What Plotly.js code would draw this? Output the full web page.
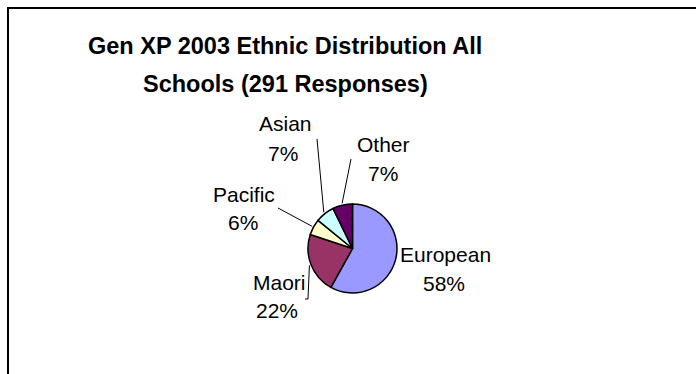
<!DOCTYPE html>
<html>
<head>
<meta charset="utf-8">
<script src="https://cdn.plot.ly/plotly-3.0.1.min.js"></script>
<style>html,body{margin:0;padding:0;background:#fff}#chart{width:696px;height:374px}</style>
</head>
<body>
<div id="chart"></div>
<script>
// Data
const categories = ["European", "Maori", "Pacific", "Asian", "Other"];
const responses = [169, 64, 17, 20, 21];
const sliceColors = ["#9999FF", "#993366", "#FFFFCC", "#CCFFFF", "#660066"];
const titleLines = ["Gen XP 2003 Ethnic Distribution All", "Schools (291 Responses)"];

// Layout helpers (pixel positions)
const W = 696, H = 374;
const cx = 352.5, cy = 248.5, R = 44.5;
const px = x => x / W;
const py = y => 1 - y / H;

// label positions (pixels): [name x, name y, percent x, percent y]
const labelPos = {
  "European": [445, 254, 444, 283],
  "Maori": [279, 282, 277, 310],
  "Pacific": [244, 194, 243, 222],
  "Asian": [285, 123, 283, 153],
  "Other": [383, 144, 383, 173]
};
// leader line outer points (pixels); null = no leader
const leaderOuter = {
  "European": null,
  "Maori": [[308, 299], [305, 299]],
  "Pacific": [[278, 208]],
  "Asian": [[317, 139]],
  "Other": [[351, 159]]
};

const total = responses.reduce((a, b) => a + b, 0);
const annotations = [];
const shapes = [];
const fontFam = "Liberation Sans, Arial, sans-serif";

titleLines.forEach((t, i) => {
  annotations.push({
    text: "<b>" + t + "</b>", xref: "paper", yref: "paper",
    x: px(285), y: py(46 + i * 38), xanchor: "center", yanchor: "middle",
    showarrow: false, font: {family: fontFam, size: 23.5, color: "#000"}
  });
});

let cum = 0;
categories.forEach((c, i) => {
  const frac = responses[i] / total;
  const mid = (cum + frac / 2) * 2 * Math.PI;
  cum += frac;
  const [lx, ly, qx, qy] = labelPos[c];
  annotations.push({
    text: c, xref: "paper", yref: "paper", x: px(lx), y: py(ly),
    xanchor: "center", yanchor: "middle", showarrow: false,
    font: {family: fontFam, size: 21, color: "#000"}
  });
  annotations.push({
    text: Math.round(frac * 100) + "%", xref: "paper", yref: "paper", x: px(qx), y: py(qy),
    xanchor: "center", yanchor: "middle", showarrow: false,
    font: {family: fontFam, size: 21, color: "#000"}
  });
  const outer = leaderOuter[c];
  if (outer) {
    const r2 = R * 1.04;
    const sx = cx + r2 * Math.sin(mid), sy = cy - r2 * Math.cos(mid);
    let path = "M" + px(sx) + "," + py(sy);
    outer.forEach(p => { path += " L" + px(p[0]) + "," + py(p[1]); });
    shapes.push({type: "path", xref: "paper", yref: "paper", path: path,
      line: {color: "#000", width: 1}});
  }
});

// chart frame (left and top edges visible)
shapes.push({type: "rect", xref: "paper", yref: "paper",
  x0: px(8), x1: 1.2, y0: -0.2, y1: py(8), line: {color: "#000", width: 2}, fillcolor: "rgba(0,0,0,0)"});

const trace = {
  type: "pie", labels: categories, values: responses, sort: false,
  direction: "clockwise", rotation: 0, textinfo: "none", hoverinfo: "none",
  marker: {colors: sliceColors, line: {color: "#000", width: 1.5}},
  domain: {x: [px(cx - R), px(cx + R)], y: [py(cy + R), py(cy - R)]},
  showlegend: false
};

const layout = {
  width: W, height: H, margin: {l: 0, r: 0, t: 0, b: 0},
  paper_bgcolor: "#fff", plot_bgcolor: "#fff",
  showlegend: false, annotations: annotations, shapes: shapes
};

Plotly.newPlot("chart", [trace], layout, {displayModeBar: false, staticPlot: true});
</script>
</body>
</html>
